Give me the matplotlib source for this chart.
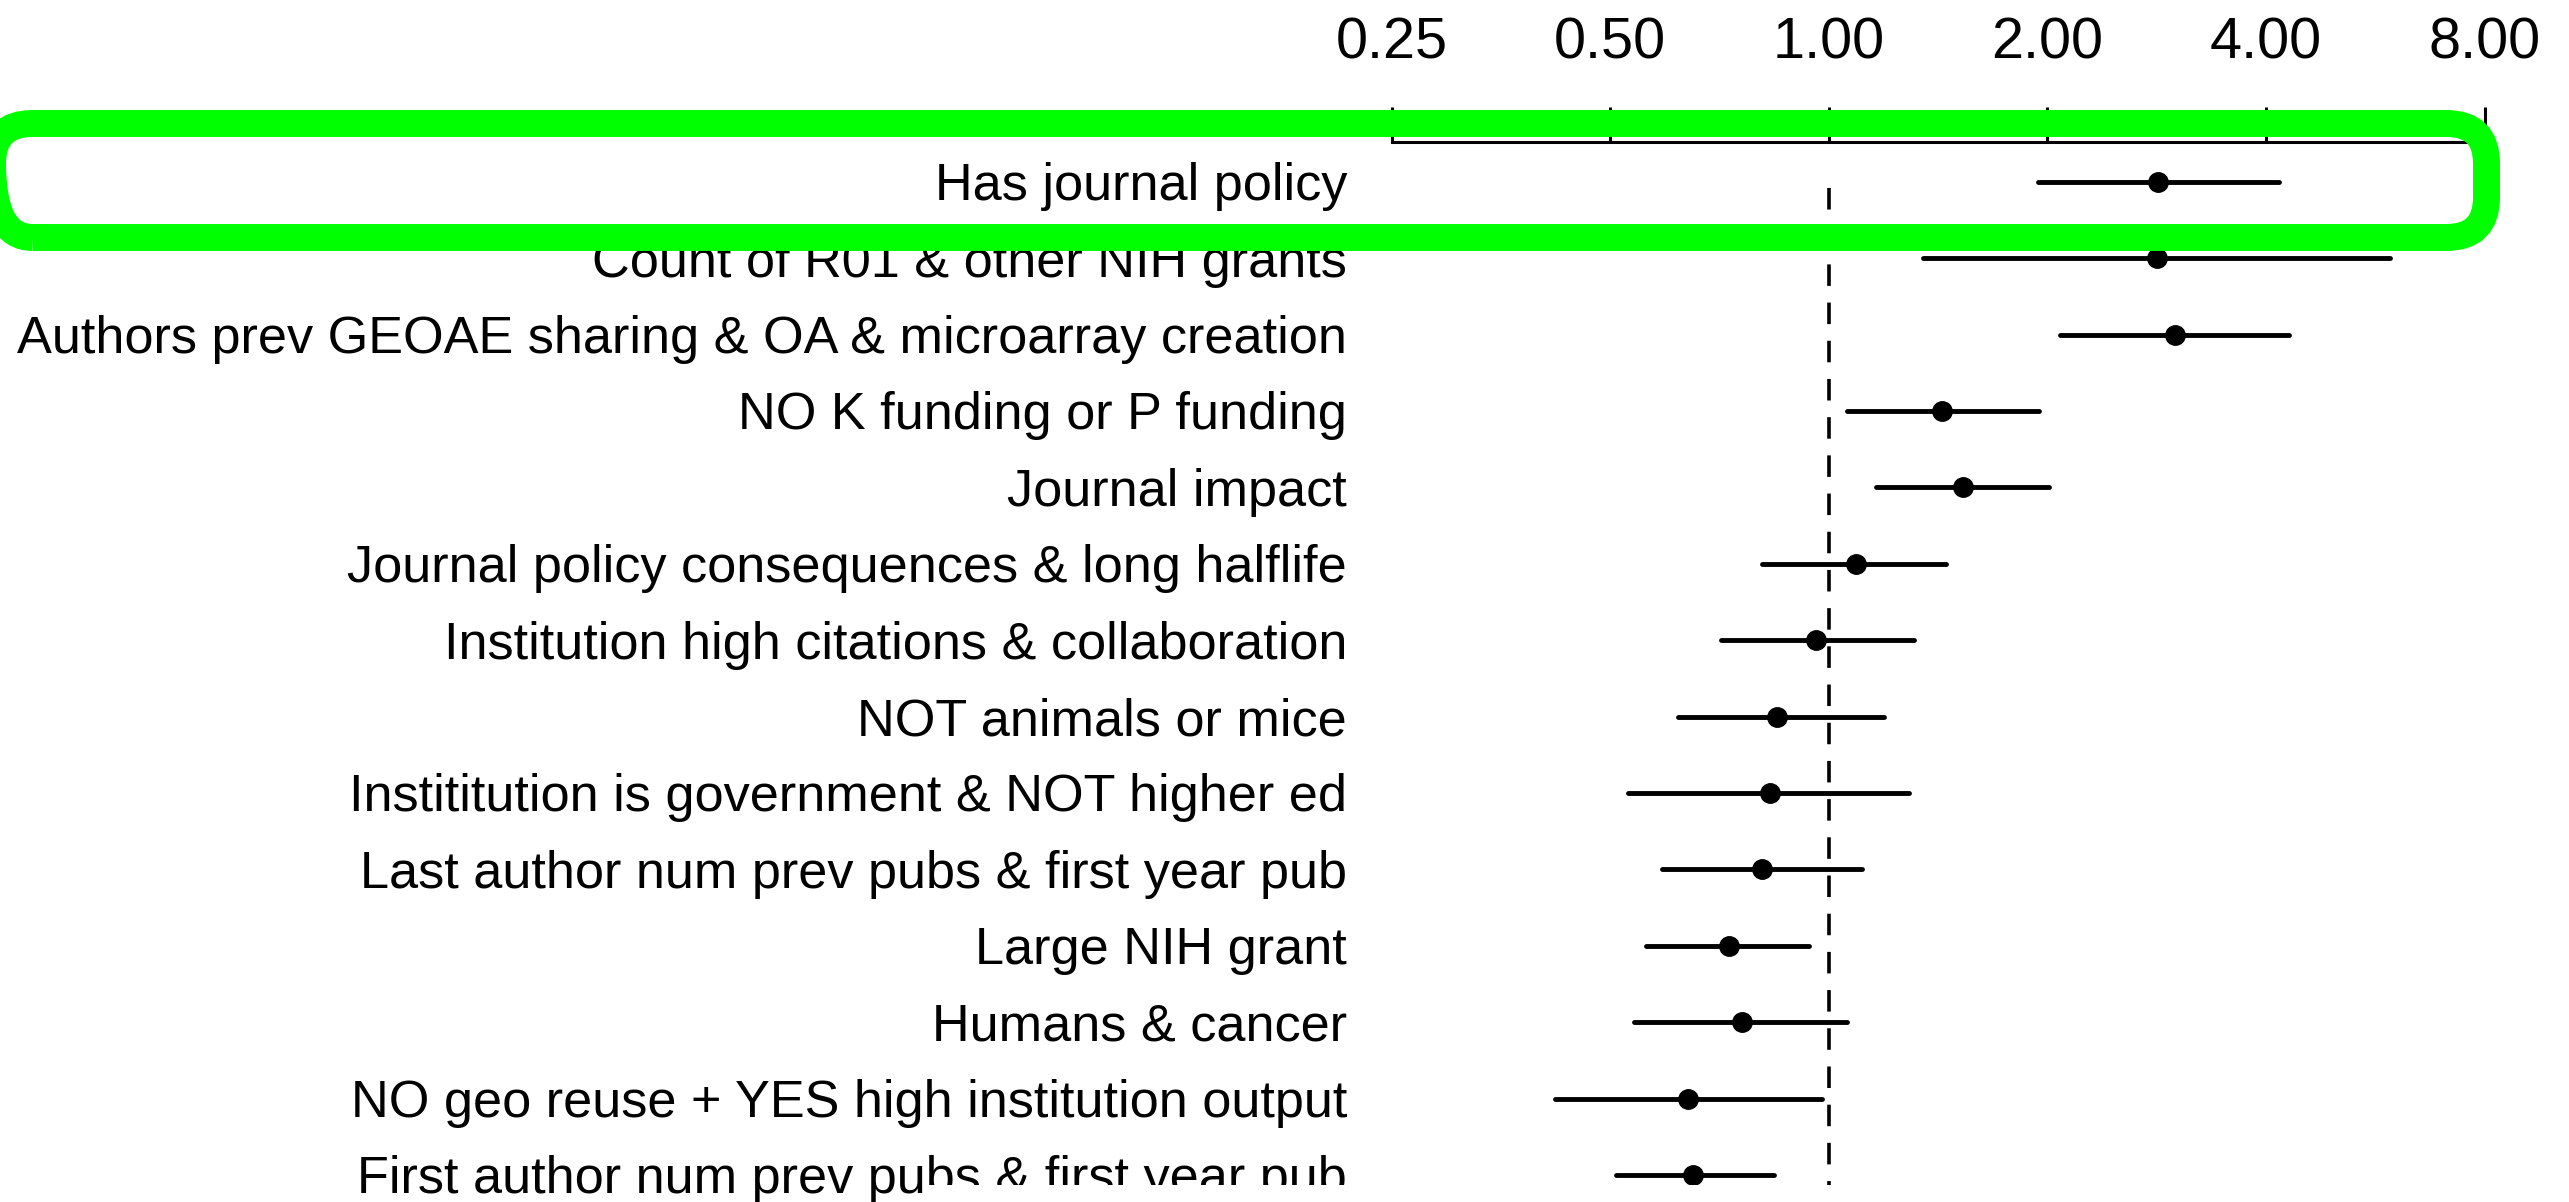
import matplotlib
matplotlib.use('Agg')
import matplotlib.pyplot as plt
import matplotlib.transforms as mtransforms
from matplotlib.patches import FancyBboxPatch, Rectangle

# factor labels, top to bottom
factor_lst = [
    'Has journal policy',
    'Count of R01 & other NIH grants',
    'Authors prev GEOAE sharing & OA & microarray creation',
    'NO K funding or P funding',
    'Journal impact',
    'Journal policy consequences & long halflife',
    'Institution high citations & collaboration',
    'NOT animals or mice',
    'Instititution is government & NOT higher ed',
    'Last author num prev pubs & first year pub',
    'Large NIH grant',
    'Humans & cancer',
    'NO geo reuse + YES high institution output',
    'First author num prev pubs & first year pub',
]

# odds ratios and 95% interval
odds_lst = [2.84, 2.83, 3.00, 1.43, 1.53, 1.09, 0.96, 0.85, 0.83, 0.81, 0.73, 0.76, 0.64, 0.65]
low_lst = [1.94, 1.35, 2.08, 1.06, 1.16, 0.81, 0.71, 0.62, 0.53, 0.59, 0.56, 0.54, 0.42, 0.51]
high_lst = [4.17, 5.92, 4.31, 1.95, 2.01, 1.45, 1.31, 1.19, 1.29, 1.11, 0.94, 1.06, 0.98, 0.84]

tick_lst = [0.25, 0.5, 1, 2, 4, 8]
tick_label_lst = ['0.25', '0.50', '1.00', '2.00', '4.00', '8.00']

# figure parameters
W_PX, H_PX = 2569, 1202
DPI = 100
LABEL_SIZE = 37.6
TICK_SIZE = 41.5
GREEN = '#00ff00'


def draw_forest():
    plt.rcParams['font.family'] = ['Liberation Sans', 'DejaVu Sans']
    plt.rcParams['lines.scale_dashes'] = False

    fig = plt.figure(figsize=(W_PX / DPI, H_PX / DPI), dpi=DPI)
    left, right, top = 1391.5, 2484.5, 141.7
    ax = fig.add_axes([left / W_PX, 0, (right - left) / W_PX, (H_PX - top) / H_PX])

    row_lst = list(range(len(factor_lst)))
    row0, step = 181.7, 76.4
    ax.set_ylim((H_PX - row0) / step, (top - row0) / step)
    ax.set_xscale('log', base=2)
    ax.set_xlim(tick_lst[0], tick_lst[-1])

    # reference line at 1
    ax.vlines(1, 0.083, 20, color='black', linewidth=2.6, linestyle=(0, (15.5, 12)))

    # intervals and points
    ax.hlines(row_lst, low_lst, high_lst, color='black', linewidth=3.5, capstyle='round', clip_on=False)
    ax.plot(odds_lst, row_lst, 'o', color='black', markersize=14, clip_on=False)

    # axis on top
    for side in ['left', 'right', 'bottom']:
        ax.spines[side].set_visible(False)
    ax.spines['top'].set_linewidth(2.2)
    ax.xaxis.tick_top()
    ax.set_xticks(tick_lst)
    ax.set_xticklabels(tick_label_lst)
    ax.minorticks_off()
    ax.tick_params(axis='x', which='major', length=25, width=2.2, pad=26, labelsize=TICK_SIZE)
    ax.set_yticks([])

    # factor labels, right aligned
    trans = mtransforms.blended_transform_factory(fig.transFigure, ax.transData)
    trans = trans + mtransforms.ScaledTranslation(0, -18.5 / DPI, fig.dpi_scale_trans)
    for row, name in zip(row_lst, factor_lst):
        ax.text(1347 / W_PX, row, name, transform=trans, ha='right', va='baseline',
                fontsize=LABEL_SIZE, clip_on=False)

    # green highlight round the first row
    box = FancyBboxPatch((-0.075, 9.645), 24.94, 1.14,
                         boxstyle='round,pad=0,rounding_size=0.4',
                         transform=fig.dpi_scale_trans, fill=False,
                         edgecolor=GREEN, linewidth=19.4, zorder=10)
    fig.add_artist(box)

    # the bottom strip of the source is cut off on the right
    cover = Rectangle((9.26, 0), 17, 0.17, transform=fig.dpi_scale_trans,
                      facecolor='white', edgecolor='none', zorder=11)
    fig.add_artist(cover)

    fig.savefig('out.png', dpi=DPI)


if __name__ == '__main__':
    draw_forest()
